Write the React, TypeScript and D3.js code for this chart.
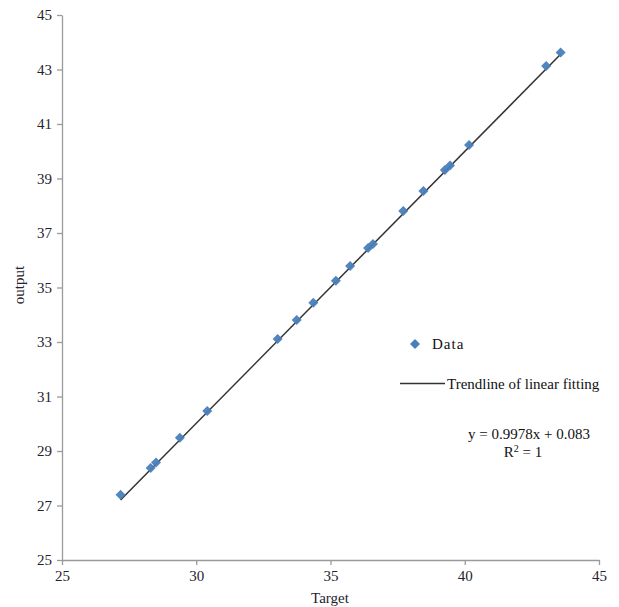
import { useRef, useEffect } from "react";
import * as d3 from "d3";

// data (Target vs output)
const targetValues = [27.18, 28.3, 28.5, 29.39, 30.41, 33.03, 33.74, 34.36, 35.2, 35.73, 36.4, 36.58, 37.71, 38.46, 39.26, 39.45, 40.16, 43.03, 43.57];
const outputValues = [27.39, 28.38, 28.58, 29.49, 30.47, 33.11, 33.81, 34.44, 35.25, 35.79, 36.45, 36.6, 37.81, 38.54, 39.31, 39.48, 40.23, 43.13, 43.62];
const xTicks = [25, 30, 35, 40, 45];
const yTicks = [25, 27, 29, 31, 33, 35, 37, 39, 41, 43, 45];
const slope = 0.9978;
const intercept = 0.083;

export default function App() {
	const ref = useRef<SVGSVGElement>(null);

	useEffect(() => {
		const width = 619;
		const height = 607;
		const font = "'Liberation Serif', 'Times New Roman', serif";
		const svg = d3.select(ref.current);
		svg.selectAll("*").remove();

		// ---- Scales ----
		const x = d3.scaleLinear().domain([25, 45]).range([62, 599]);
		const y = d3.scaleLinear().domain([25, 45]).range([560, 15]);

		// ---- Axes ----
		const xAxis = svg.append("g")
			.attr("transform", "translate(0,560)")
			.call(d3.axisBottom(x).tickValues(xTicks).tickSize(5).tickSizeOuter(0).tickPadding(5));
		const yAxis = svg.append("g")
			.attr("transform", "translate(62,0)")
			.call(d3.axisLeft(y).tickValues(yTicks).tickSize(5).tickSizeOuter(0).tickPadding(5));

		[xAxis, yAxis].forEach((g) => {
			g.select(".domain").attr("stroke", "#9a9a9a").attr("stroke-width", 1.3);
			g.selectAll(".tick line").attr("stroke", "#9a9a9a").attr("stroke-width", 1.3);
			g.selectAll(".tick text")
				.attr("fill", "#1f2430")
				.style("font-family", font)
				.style("font-size", "15px");
		});

		// ---- Axis labels ----
		svg.append("text")
			.attr("x", 330)
			.attr("y", 603)
			.attr("text-anchor", "middle")
			.style("font-family", font)
			.style("font-size", "15px")
			.attr("fill", "#1f2430")
			.text("Target");

		svg.append("text")
			.attr("transform", "rotate(-90)")
			.attr("x", -285)
			.attr("y", 24)
			.attr("text-anchor", "middle")
			.style("font-family", font)
			.style("font-size", "15px")
			.attr("fill", "#1f2430")
			.text("output");

		// ---- Trendline ----
		const xMin = d3.min(targetValues)!;
		const xMax = d3.max(targetValues)!;
		svg.append("line")
			.attr("x1", x(xMin))
			.attr("y1", y(slope * xMin + intercept))
			.attr("x2", x(xMax))
			.attr("y2", y(slope * xMax + intercept))
			.attr("stroke", "#333")
			.attr("stroke-width", 1.5);

		// ---- Points ----
		const diamond = d3.symbol().type(d3.symbolSquare).size(50);
		svg.selectAll("path.pt")
			.data(targetValues)
			.enter()
			.append("path")
			.attr("class", "pt")
			.attr("d", diamond)
			.attr("transform", (d, i) => `translate(${x(d)},${y(outputValues[i])}) rotate(45)`)
			.attr("fill", "#4a7ebb")
			.attr("opacity", 0.95);

		// ---- Legend ----
		svg.append("path")
			.attr("d", diamond)
			.attr("transform", "translate(415,344) rotate(45)")
			.attr("fill", "#4a7ebb");
		svg.append("text")
			.attr("x", 432)
			.attr("y", 349)
			.style("font-family", font)
			.style("font-size", "15px")
			.style("letter-spacing", "1px")
			.attr("fill", "#111")
			.text("Data");

		svg.append("line")
			.attr("x1", 400)
			.attr("x2", 445)
			.attr("y1", 383.5)
			.attr("y2", 383.5)
			.attr("stroke", "#333")
			.attr("stroke-width", 1.5);
		svg.append("text")
			.attr("x", 447)
			.attr("y", 389)
			.style("font-family", font)
			.style("font-size", "15px")
			.attr("fill", "#111")
			.text("Trendline of linear fitting");

		// ---- Equation ----
		svg.append("text")
			.attr("x", 529)
			.attr("y", 439)
			.attr("text-anchor", "middle")
			.style("font-family", font)
			.style("font-size", "15px")
			.attr("fill", "#111")
			.text(`y = ${slope}x + ${intercept}`);
		const r2 = svg.append("text")
			.attr("x", 523)
			.attr("y", 457)
			.attr("text-anchor", "middle")
			.style("font-family", font)
			.style("font-size", "15px")
			.attr("fill", "#111");
		r2.append("tspan").text("R");
		r2.append("tspan").attr("dy", -5).style("font-size", "10px").text("2");
		r2.append("tspan").attr("dy", 5).text(" = 1");

		svg.attr("width", width).attr("height", height);
	}, []);

	return (
		<svg
			ref={ref}
			width={619}
			height={607}
			style={{ position: "absolute", left: 0, top: 0, background: "#fff" }}
		/>
	);
}
